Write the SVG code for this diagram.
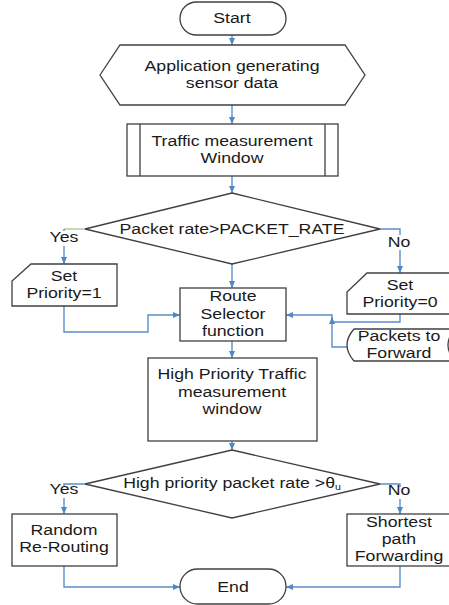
<svg xmlns="http://www.w3.org/2000/svg" width="449" height="605" viewBox="0 0 449 605">
<defs>
<marker id="ah" markerUnits="userSpaceOnUse" markerWidth="7" markerHeight="6" refX="7" refY="3" orient="auto">
<path d="M0,0 L7,3 L0,6 z" fill="#4f86c6"/>
</marker>
<style>
.s{fill:#fff;stroke:#404040;stroke-width:1.3}
.c{fill:none;stroke:#5a8fca;stroke-width:1.4}
.g{fill:none;stroke:#aacb95;stroke-width:1.4}
.t{font-family:"Liberation Sans",Arial,sans-serif;font-size:15px;fill:#1a1a1a;text-anchor:middle}
.bg{fill:#fff;stroke:none}
</style>
</defs>
<rect width="449" height="605" fill="#fff"/>

<g id="connectors">
<path class="c" d="M232,35 V45" marker-end="url(#ah)"/>
<path class="c" d="M232,105 V124" marker-end="url(#ah)"/>
<path class="c" d="M232,176 V193" marker-end="url(#ah)"/>
<path class="g" d="M85,229 H64"/>
<path class="c" d="M64,229 V264" marker-end="url(#ah)"/>
<path class="c" d="M232,264 V288" marker-end="url(#ah)"/>
<path class="c" d="M380,229 H400 V273" marker-end="url(#ah)"/>
<path class="c" d="M64,306 V332 H148 V315 H180" marker-end="url(#ah)"/>
<path class="c" d="M400,314 V322 H332 V315 H286" marker-end="url(#ah)"/>
<path class="c" d="M348,347 H332 V317" marker-end="url(#ah)"/>
<path class="c" d="M232,341 V358" marker-end="url(#ah)"/>
<path class="c" d="M232,441 V450" marker-end="url(#ah)"/>
<path class="c" d="M85,484 H64 V514" marker-end="url(#ah)"/>
<path class="c" d="M380,484 H400 V514" marker-end="url(#ah)"/>
<path class="c" d="M64,566 V587 H180" marker-end="url(#ah)"/>
<path class="c" d="M400,566 V587 H286" marker-end="url(#ah)"/>
<rect class="bg" x="47" y="231" width="34" height="15"/>
<text class="t" transform="translate(64 0) scale(1.18 1)" y="242">Yes</text>
<rect class="bg" x="386" y="235" width="27" height="15"/>
<text class="t" transform="translate(399 0) scale(1.18 1)" y="247">No</text>
<rect class="bg" x="47" y="486" width="34" height="12"/>
<text class="t" transform="translate(64 0) scale(1.18 1)" y="494">Yes</text>
<rect class="bg" x="386" y="487" width="27" height="12"/>
<text class="t" transform="translate(399 0) scale(1.18 1)" y="495">No</text>
</g>

<g id="start">
<rect class="s" x="180" y="2" width="106" height="33" rx="16.5"/>
<text class="t" transform="translate(232 0) scale(1.18 1)" y="23">Start</text>
</g>

<g id="application">
<polygon class="s" points="100,75 120,45 345,45 365,75 345,105 120,105"/>
<text class="t" transform="translate(232 0) scale(1.18 1)" y="71">Application generating</text>
<text class="t" transform="translate(232 0) scale(1.18 1)" y="88">sensor data</text>
</g>

<g id="traffic-window">
<rect class="s" x="127" y="124" width="211" height="52"/>
<path class="s" d="M140,124 V176 M325,124 V176"/>
<text class="t" transform="translate(232 0) scale(1.18 1)" y="146">Traffic measurement</text>
<text class="t" transform="translate(232 0) scale(1.18 1)" y="163">Window</text>
</g>

<g id="decision1">
<polygon class="s" points="232,193 380,229 232,264 85,229"/>
<text class="t" transform="translate(232 0) scale(1.18 1)" y="234">Packet rate&gt;PACKET_RATE</text>
</g>

<g id="set-priority-1">
<path class="s" d="M31,264 H117 V306 H12 V281 Z"/>
<text class="t" transform="translate(64 0) scale(1.18 1)" y="281">Set</text>
<text class="t" transform="translate(64 0) scale(1.18 1)" y="298">Priority=1</text>
</g>

<g id="set-priority-0">
<path class="s" d="M367,273 H460 V314 H347 V292 Z"/>
<text class="t" transform="translate(400 0) scale(1.18 1)" y="290">Set</text>
<text class="t" transform="translate(400 0) scale(1.18 1)" y="307">Priority=0</text>
</g>

<g id="route-selector">
<rect class="s" x="180" y="288" width="106" height="53"/>
<text class="t" transform="translate(233 0) scale(1.18 1)" y="301">Route</text>
<text class="t" transform="translate(233 0) scale(1.18 1)" y="319">Selector</text>
<text class="t" transform="translate(233 0) scale(1.18 1)" y="336">function</text>
</g>

<g id="packets-to-forward">
<path class="s" d="M354,329 H462 Q448,345 462,361 H354 Q340,345 354,329 Z"/>
<path class="s" d="M455,329 Q441,345 455,361" fill="none"/>
<text class="t" transform="translate(399 0) scale(1.18 1)" y="341">Packets to</text>
<text class="t" transform="translate(399 0) scale(1.18 1)" y="358">Forward</text>
</g>

<g id="high-priority-window">
<rect class="s" x="148" y="358" width="169" height="83"/>
<text class="t" transform="translate(232 0) scale(1.18 1)" y="379">High Priority Traffic</text>
<text class="t" transform="translate(232 0) scale(1.18 1)" y="397">measurement</text>
<text class="t" transform="translate(232 0) scale(1.18 1)" y="414">window</text>
</g>

<g id="decision2">
<polygon class="s" points="232,450 380,484 232,518 85,484"/>
<text class="t" transform="translate(232 0) scale(1.18 1)" y="488">High priority packet rate &gt;θ<tspan font-size="9" dy="2">u</tspan></text>
</g>

<g id="random-rerouting">
<rect class="s" x="12" y="514" width="105" height="52"/>
<text class="t" transform="translate(64 0) scale(1.18 1)" y="535">Random</text>
<text class="t" transform="translate(64 0) scale(1.18 1)" y="552">Re-Routing</text>
</g>

<g id="shortest-path">
<rect class="s" x="347" y="514" width="106" height="52"/>
<text class="t" transform="translate(399 0) scale(1.18 1)" y="527">Shortest</text>
<text class="t" transform="translate(399 0) scale(1.18 1)" y="544">path</text>
<text class="t" transform="translate(399 0) scale(1.18 1)" y="561">Forwarding</text>
</g>

<g id="end">
<rect class="s" x="180" y="569" width="106" height="35" rx="17.5"/>
<text class="t" transform="translate(233 0) scale(1.18 1)" y="592">End</text>
</g>
</svg>
